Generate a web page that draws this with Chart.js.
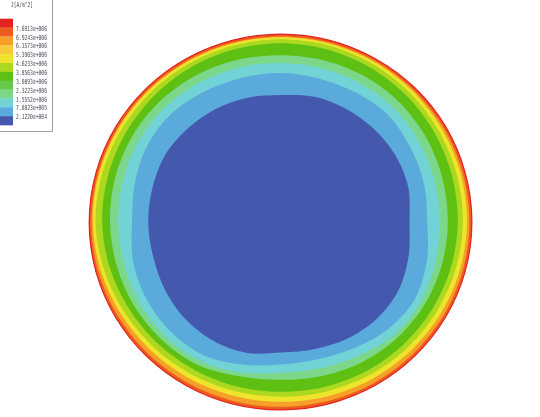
<!DOCTYPE html>
<html><head><meta charset="utf-8">
<script src="https://cdn.jsdelivr.net/npm/chart.js@4.4.0/dist/chart.umd.min.js"></script>
<style>html,body{margin:0;padding:0;background:#fff;overflow:hidden}canvas{display:block}</style>
</head><body>
<canvas id="c" width="540" height="417"></canvas>
<script>
// Angles (clockwise from top) at which contour radii were read (radius in % of conductor radius)
const angleLabels = ['0','15','30','45','60','75','90','105','120','135','150','165','180','195','210','225','240','255','270','285','300','315','330','345'];

// Legend
const legendTitle = 'J[A/m^2]';
const legendValues = ['7.6913e+006','6.9243e+006','6.1573e+006','5.3903e+006','4.6233e+006','3.8563e+006','3.0893e+006','2.3223e+006','1.5552e+006','7.8823e+005','2.1220e+004'];
const legendColors = ['#e2231f','#ee5b1f','#f6a02a','#f8c93c','#eee42c','#acd820','#5ec012','#66c84a','#7cd78a','#72d3d6','#5aaadc','#4459ad'];

// Contour boundaries (outer edge of each colour band), radius per angle
const rEdge      = [100,100.1,100.4,100.9,101.3,101.5,101.6,101.5,101.2,100.8,100.4,100.1,100,100.2,100.6,101.1,101.6,102,102.1,101.9,101.5,101,100.5,100.1];
const rOrange    = [98.8,98.9,99.2,99.6,100,100.2,100.3,100.1,99.8,99.3,98.9,98.5,98.4,98.6,99,99.6,100.2,100.7,100.9,100.7,100.3,99.8,99.3,98.9];
const rYellow    = [98.3,98.4,98.6,98.8,98.9,99,99,98.6,98,97.3,96.6,96,95.7,95.9,96.5,97.3,98.3,99.3,100.2,100.2,99.8,99.3,98.8,98.4];
const rYellowGrn = [97.3,97.3,97.3,97.2,97,96.9,96.8,96.3,95.6,94.9,94.1,93.4,93,93.3,94,95,96.2,97.6,98.7,98.6,98.2,97.8,97.5,97.3];
const rGreen     = [95.2,95.1,95,94.8,94.5,94.3,94.1,93.6,92.9,92.2,91.5,90.8,90.4,90.6,91.2,92.1,93.1,94.3,95.2,95.3,95.3,95.3,95.3,95.2];
const rLightGrn  = [88.8,89,89.4,89.6,89.4,89,88.8,88.6,88.2,87.4,86.2,84.8,84,85,88,89.2,90,90.5,91,91.4,91.4,91,90.2,89.4];
const rCyan      = [84.6,84.6,85,85.4,85,84.6,84.4,85,85.6,85,82.4,80.6,80.3,83,85.5,86.5,86.8,86.5,86.7,87,87.3,86.8,86,85.2];
const rLightBlue = [79.3,79,79.6,80.6,79.5,78.8,77.9,80.4,82.2,80.6,77.6,75.6,75.8,78.5,82,82.8,82.5,81.5,79.3,80.5,82,82,80.5,79.5];
const rDarkBlue  = [67.6,69,69.5,70,70.5,70.2,68.4,70.3,72.3,72.5,71.5,70,69.5,72,72.8,72.5,71.5,70.5,70.7,70.8,71.2,70.3,69.5,68.5];

// bands, innermost first (first dataset is drawn on top)
const bands = [
  {r: rDarkBlue,  c: '#4459ad'},
  {r: rLightBlue, c: '#5aaadc'},
  {r: rCyan,      c: '#72d3d6'},
  {r: rLightGrn,  c: '#7cd78a'},
  {r: rGreen,     c: '#5ec012'},
  {r: rYellowGrn, c: '#acd820'},
  {r: rYellow,    c: '#eee42c'},
  {r: rOrange,    c: '#f6a02a'},
  {r: rEdge,      c: '#ee5b1f', border: '#e2231f'}
];

const colorLegend = {
  id: 'colorLegend',
  afterDraw(chart) {
    const ctx = chart.ctx;
    ctx.save();
    const top = 18.7, h = 8.86;
    legendColors.forEach((col, i) => {
      ctx.fillStyle = col;
      ctx.fillRect(0, top + i * h, 13, h + 0.3);
    });
    ctx.strokeStyle = '#a0a0a0';
    ctx.lineWidth = 1;
    ctx.beginPath();
    ctx.moveTo(0, 131.5); ctx.lineTo(52.5, 131.5); ctx.lineTo(52.5, 0);
    ctx.stroke();
    ctx.fillStyle = '#4a4a5a';
    ctx.textBaseline = 'middle';
    ctx.font = '7px "DejaVu Sans Mono", monospace';
    ctx.textAlign = 'left';
    ctx.fillText(legendTitle, 11, 5.5, 22);
    legendValues.forEach((v, i) => {
      ctx.fillText(v, 16, top + (i + 1) * h + 1.3, 31);
    });
    ctx.restore();
  }
};

new Chart(document.getElementById('c'), {
  type: 'radar',
  data: {
    labels: angleLabels,
    datasets: bands.map(b => ({
      data: b.r,
      backgroundColor: b.c,
      borderColor: b.border || b.c,
      borderWidth: b.border ? 1.2 : 0,
      fill: 'start',
      pointRadius: 0,
      pointHoverRadius: 0,
      tension: 0.32,
      clip: false
    }))
  },
  options: {
    responsive: false,
    animation: false,
    devicePixelRatio: 1,
    layout: {padding: {left: 89, right: 67, top: 30, bottom: 3}},
    plugins: {legend: {display: false}, tooltip: {enabled: false}},
    scales: {
      r: {
        min: 0, max: 102.2,
        grid: {display: false},
        angleLines: {display: false},
        ticks: {display: false},
        pointLabels: {display: false}
      }
    }
  },
  plugins: [colorLegend]
});
</script>
</body></html>
